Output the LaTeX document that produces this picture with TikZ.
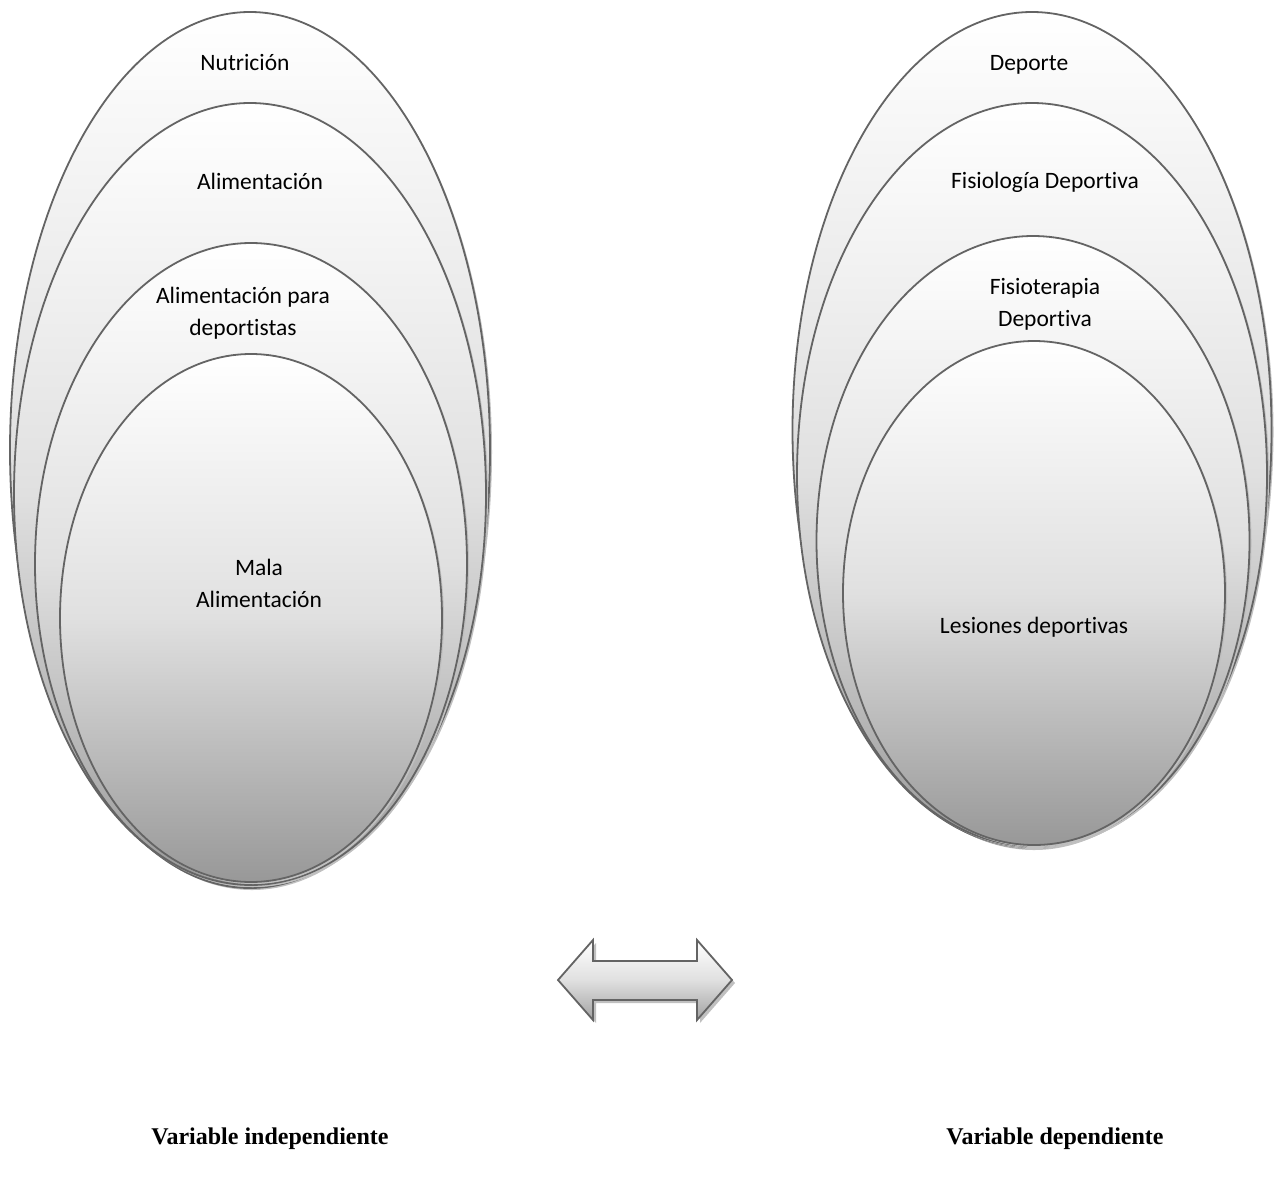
\documentclass[tikz,border=0pt]{standalone}
\usepackage{fontspec}
\setmainfont{Carlito}[Ligatures=NoCommon]
\newfontfamily\timesbf{Liberation Serif}
\usetikzlibrary{shapes.geometric,shadows}
\definecolor{edgegray}{RGB}{100,100,100}
\definecolor{midgray}{RGB}{224,224,224}
\definecolor{botgray}{RGB}{152,152,152}
\definecolor{shadowgray}{RGB}{192,192,192}
\tikzset{
  oval/.style={ellipse, draw=edgegray, line width=1.8pt, top color=white, bottom color=botgray, middle color=midgray, inner sep=0pt,
    drop shadow={shadow xshift=2pt, shadow yshift=-2pt, fill=shadowgray, opacity=1}},
  lbl/.style={font=\fontsize{23.5}{32}\selectfont, align=center, inner sep=0pt},
  capt/.style={font=\timesbf\bfseries\fontsize{24}{28}\selectfont, inner sep=0pt},
}
\begin{document}
\begin{tikzpicture}[x=1pt,y=-1pt]
\useasboundingbox[fill=white] (0,0) rectangle (1276,1184);
% left group
\node[oval, minimum width=480, minimum height=876] (L1) at (250,450) {};
\node[oval, minimum width=472, minimum height=782] (L2) at (250,494) {};
\node[oval, minimum width=432, minimum height=642] (L3) at (251,564) {};
\node[oval, minimum width=382, minimum height=528] (L4) at (251,618) {};
\node[lbl] (tL1) at (245,62) {Nutrición};
\node[lbl] (tL2) at (260,181) {Alimentación};
\node[lbl] (tL3) at (243,313) {Alimentación para\\deportistas};
\node[lbl] (tL4) at (259,583) {Mala\\Alimentación};
% right group
\node[oval, minimum width=479, minimum height=836] (R1) at (1032,430) {};
\node[oval, minimum width=470, minimum height=744] (R2) at (1032,475) {};
\node[oval, minimum width=433, minimum height=610] (R3) at (1033,541) {};
\node[oval, minimum width=382, minimum height=504] (R4) at (1034,593) {};
\node[lbl] (tR1) at (1029,65) {Deporte};
\node[lbl] (tR2) at (1045,182) {Fisiología Deportiva};
\node[lbl] (tR3) at (1045,304) {Fisioterapia\\Deportiva};
\node[lbl] (tR4) at (1034,627) {Lesiones deportivas};
% double arrow
\fill[shadowgray] (561,983) -- (596,943) -- (596,964) -- (700,964) -- (700,943) -- (735,983) -- (700,1023) -- (700,1003) -- (596,1003) -- (596,1023) -- cycle;
\draw[edgegray, line width=1.8pt, line join=miter, top color=white, bottom color=botgray!90, middle color=midgray]
  (558,980) -- (593,940) -- (593,961) -- (697,961) -- (697,940) -- (732,980) -- (697,1020) -- (697,1000) -- (593,1000) -- (593,1020) -- cycle;
% captions
\node[capt] (cL) at (270,1139) {Variable independiente};
\node[capt] (cR) at (1055,1139) {Variable dependiente};
\end{tikzpicture}
\end{document}
